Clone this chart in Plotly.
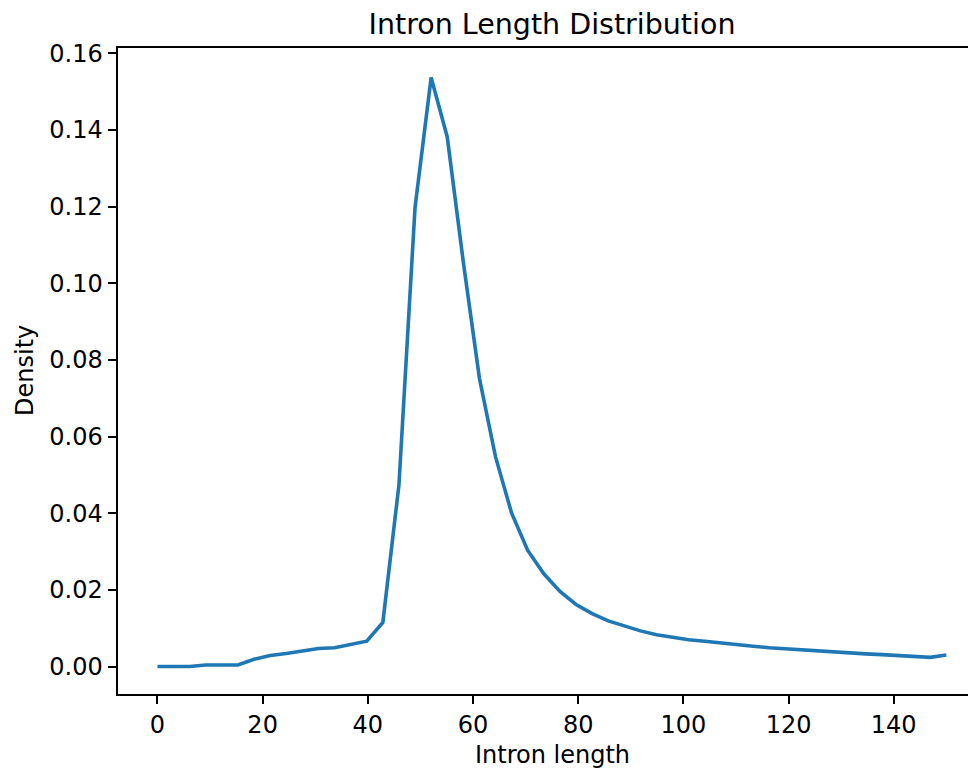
import numpy as np
import plotly.graph_objects as go

# 50 evenly spaced intron lengths from 0 to 150
intron_length = np.linspace(0, 150, 50)
density = [
    0.0000, 0.0000, 0.0000, 0.0004, 0.0005, 0.0004, 0.0019, 0.0029, 0.0034, 0.0040,
    0.0047, 0.0049, 0.0058, 0.0066, 0.0115, 0.0474, 0.1198, 0.1537, 0.1382, 0.1055,
    0.0752, 0.0547, 0.0400, 0.0303, 0.0242, 0.0196, 0.0162, 0.0138, 0.0119, 0.0105,
    0.0093, 0.0083, 0.0076, 0.0070, 0.0066, 0.0061, 0.0057, 0.0053, 0.0049, 0.0046,
    0.0043, 0.0040, 0.0038, 0.0035, 0.0033, 0.0031, 0.0029, 0.0027, 0.0024, 0.0030,
]
x_ticks = [0, 20, 40, 60, 80, 100, 120, 140]
y_ticks = [0.00, 0.02, 0.04, 0.06, 0.08, 0.10, 0.12, 0.14, 0.16]

FONT = "DejaVu Sans"
OFF = 8  # page body margin
W, H = 976 - OFF, 769 - OFF
L, T, B = 118 - OFF, 48 - OFF, 75

fig = go.Figure(go.Scatter(
    x=intron_length, y=density, mode="lines",
    line=dict(color="#1f77b4", width=3.6), showlegend=False,
))

axis_common = dict(
    showgrid=False, zeroline=False, showline=True, linecolor="black", linewidth=1.9,
    ticks="outside", ticklen=8.5, tickwidth=1.9, tickcolor="black",
    tickfont=dict(family=FONT, size=24, color="black"),
)
fig.update_xaxes(range=[-7.5, 155.64], tickvals=x_ticks, mirror=True, **axis_common)
fig.update_yaxes(range=[-0.00717, 0.1614], tickvals=y_ticks, tickformat=".2f", **axis_common)

ph = H - B - T
cx = (552 - 118) / (W - L)
fig.update_layout(
    width=W, height=H,
    margin=dict(l=L, r=0, t=T, b=B, pad=0),
    plot_bgcolor="white", paper_bgcolor="white",
    font=dict(family=FONT, color="black"),
    title=dict(text="Intron Length Distribution", x=(552 - OFF) / W, xanchor="center",
               y=1 - (24 - OFF) / H, yanchor="middle", xref="container", yref="container",
               font=dict(size=28.5, family=FONT, color="black")),
    annotations=[
        dict(text="Intron length", x=cx, y=-((755 - OFF) - (H - B)) / ph,
             xref="paper", yref="paper", showarrow=False,
             font=dict(size=24, family=FONT), yanchor="middle"),
        dict(text="Density", x=-(L - (25 - OFF)) / (W - L), y=0.5,
             xref="paper", yref="paper", showarrow=False,
             font=dict(size=24, family=FONT), textangle=-90, xanchor="center"),
    ],
)
fig.write_html("out.html")
